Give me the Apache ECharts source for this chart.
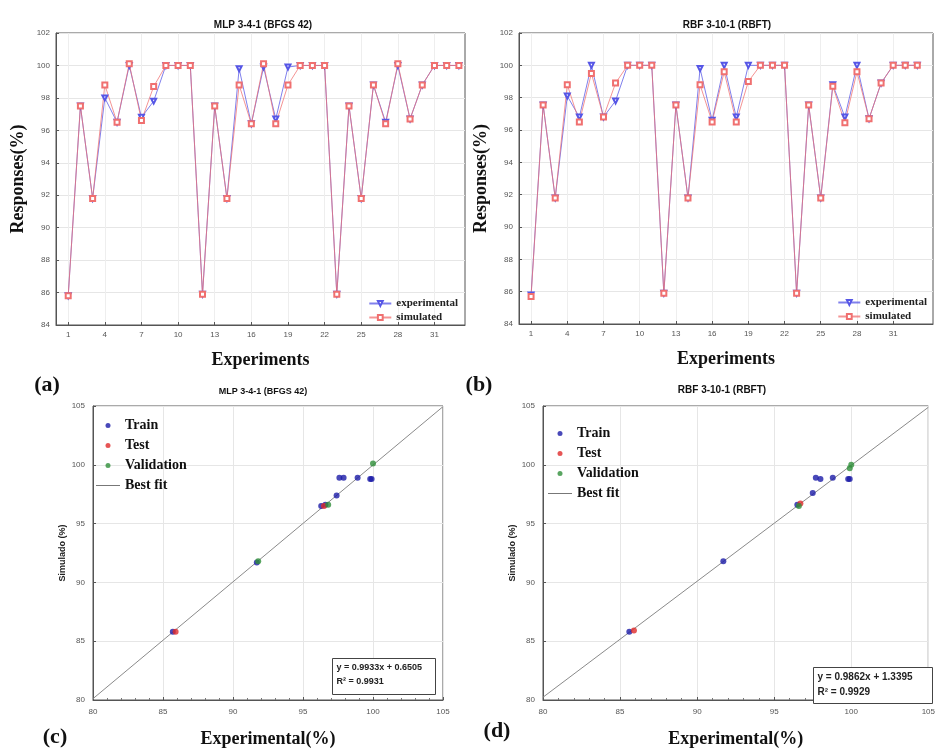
<!DOCTYPE html>
<html>
<head>
<meta charset="utf-8">
<title>MLP / RBF</title>
<script src="https://cdn.jsdelivr.net/npm/echarts@6/dist/echarts.min.js"></script>
<style>
  html, body { margin: 0; padding: 0; background: #fff; }
  #chart { width: 938px; height: 749px; }
</style>
</head>
<body>
<div id="chart"></div>
<script>
// experiments 1..33
const experiments = [1, 2, 3, 4, 5, 6, 7, 8, 9, 10, 11, 12, 13, 14, 15, 16, 17, 18, 19, 20, 21, 22, 23, 24, 25, 26, 27, 28, 29, 30, 31, 32, 33];
const expTicks = [1, 4, 7, 10, 13, 16, 19, 22, 25, 28, 31];

// (a) MLP 3-4-1
const mlpExp = [85.8, 97.5, 91.8, 98.0, 96.5, 100.0, 96.8, 97.8, 100, 100, 100, 85.9, 97.5, 91.8, 99.8, 96.4, 99.9, 96.7, 99.9, 100, 100, 100, 85.9, 97.5, 91.8, 98.8, 96.5, 100.0, 96.7, 98.8, 100, 100, 100];
const mlpSim = [85.8, 97.5, 91.8, 98.8, 96.5, 100.1, 96.6, 98.7, 100, 100, 100, 85.9, 97.5, 91.8, 98.8, 96.4, 100.1, 96.4, 98.8, 100, 100, 100, 85.9, 97.5, 91.8, 98.8, 96.4, 100.1, 96.7, 98.8, 100, 100, 100];
// (b) RBF 3-10-1
const rbfExp = [85.8, 97.55, 91.8, 98.1, 96.8, 100, 96.8, 97.8, 100, 100, 100, 85.9, 97.55, 91.8, 99.8, 96.6, 100, 96.8, 100, 100, 100, 100, 85.9, 97.55, 91.8, 98.8, 96.8, 100, 96.7, 98.9, 100, 100, 100];
const rbfSim = [85.7, 97.55, 91.8, 98.8, 96.5, 99.5, 96.8, 98.9, 100, 100, 100, 85.9, 97.55, 91.8, 98.8, 96.5, 99.6, 96.5, 99.0, 100, 100, 100, 85.9, 97.55, 91.8, 98.7, 96.45, 99.6, 96.7, 98.9, 100, 100, 100];

// (c) scatter, [experimental, simulated]
const mlpTrain = [[97.6, 98.9], [97.9, 98.9], [98.9, 98.9], [99.8, 98.8], [99.9, 98.8], [97.4, 97.4], [96.3, 96.5], [96.6, 96.6], [85.7, 85.8], [91.7, 91.7]];
const mlpTest = [[85.9, 85.8], [96.5, 96.5]];
const mlpVal = [[100, 100.1], [96.8, 96.6], [91.8, 91.8]];
// (d)
const rbfTrain = [[97.7, 98.9], [98.0, 98.8], [98.8, 98.9], [99.8, 98.8], [99.9, 98.8], [97.5, 97.6], [96.5, 96.6], [85.6, 85.8], [91.7, 91.8]];
const rbfTest = [[85.9, 85.9], [96.7, 96.7]];
const rbfVal = [[99.9, 99.7], [100, 100], [96.6, 96.5]];

const fitRange = [80, 105];
const mlpFit = [0.9933, 0.6505];
const rbfFit = [0.9862, 1.3395];
const mlpR2 = '0.9931';
const rbfR2 = '0.9929';

const serif = '"Liberation Serif", "DejaVu Serif", serif';
const sans = '"Liberation Sans", Arial, sans-serif';
const gridColor = '#e6e6e6';
const expColor = '#5656e6';
const simColor = '#f07070';

const chart = echarts.init(document.getElementById('chart'));

const pairs = (xs, ys) => xs.map((x, i) => [x, ys[i]]);
const fitLine = f => fitRange.map(x => [x, f[0] * x + f[1]]);

function responseX(idx, max) {
  return {
    type: 'value', gridIndex: idx, min: 0, max: max,
    name: 'Experiments', nameLocation: 'middle', nameGap: 26,
    nameTextStyle: { fontFamily: serif, fontWeight: 'bold', fontSize: 18, color: '#111' },
    axisLine: { lineStyle: { color: '#555' } },
    axisTick: { inside: true, length: 3, customValues: expTicks, lineStyle: { color: '#555' } },
    axisLabel: { customValues: expTicks, fontSize: 8, color: '#555', fontFamily: sans, margin: 6 },
    splitLine: { show: true, lineStyle: { color: '#eeeeee' } }
  };
}
function responseY(idx) {
  return {
    type: 'value', gridIndex: idx, min: 84, max: 102, interval: 2,
    name: 'Responses(%)', nameLocation: 'middle', nameGap: 29,
    nameTextStyle: { fontFamily: serif, fontWeight: 'bold', fontSize: 18, color: '#111' },
    axisLine: { show: true, lineStyle: { color: '#555' } },
    axisTick: { inside: true, length: 3, lineStyle: { color: '#555' } },
    axisLabel: { fontSize: 8, color: '#555', fontFamily: sans, margin: 6 },
    splitLine: { lineStyle: { color: gridColor } }
  };
}
function scatterX(idx) {
  return {
    type: 'value', gridIndex: idx, min: 80, max: 105, interval: 5,
    name: 'Experimental(%)', nameLocation: 'middle', nameGap: 30,
    nameTextStyle: { fontFamily: serif, fontWeight: 'bold', fontSize: 18, color: '#111' },
    axisLine: { lineStyle: { color: '#555' } },
    axisTick: { inside: true, length: 3, lineStyle: { color: '#555' } },
    minorTick: { show: true, splitNumber: 5, length: 2, lineStyle: { color: '#777' } },
    axisLabel: { fontSize: 8, color: '#555', fontFamily: sans, margin: 8 },
    splitLine: { lineStyle: { color: gridColor } }
  };
}
function scatterY(idx) {
  return {
    type: 'value', gridIndex: idx, min: 80, max: 105, interval: 5,
    name: 'Simulado (%)', nameLocation: 'middle', nameGap: 26,
    nameTextStyle: { fontFamily: sans, fontWeight: 'bold', fontSize: 9, color: '#222' },
    axisLine: { show: true, lineStyle: { color: '#555' } },
    axisTick: { inside: true, length: 3, lineStyle: { color: '#555' } },
    axisLabel: { fontSize: 8, color: '#555', fontFamily: sans, margin: 8 },
    splitLine: { lineStyle: { color: gridColor } }
  };
}

function respSeries(name, data, idx, color, symbol, extra) {
  return Object.assign({
    name: name, type: 'line', xAxisIndex: idx, yAxisIndex: idx,
    data: data, symbol: symbol, symbolSize: 5,
    lineStyle: { color: color, width: 1, opacity: 0.75 },
    itemStyle: { color: color, borderWidth: 1 },
    emphasis: { disabled: true }
  }, extra || {});
}
function dotSeries(name, data, idx, color) {
  return {
    name: name, type: 'scatter', xAxisIndex: idx, yAxisIndex: idx,
    data: data, symbolSize: 6, itemStyle: { color: color }, z: 3
  };
}
function fitSeries(f, idx) {
  return {
    name: 'Best fit', type: 'line', xAxisIndex: idx, yAxisIndex: idx,
    data: fitLine(f), symbol: 'none',
    lineStyle: { color: '#8a8a8a', width: 1 }, itemStyle: { color: '#777' }, z: 2
  };
}

function eqBox(x, y, w, h, f, r2, size) {
  return {
    type: 'group', left: x, top: y, z: 50,
    children: [
      { type: 'rect', z: 50, shape: { x: 0, y: 0, width: w, height: h }, style: { fill: '#fff', stroke: '#444', lineWidth: 1 } },
      { type: 'text', z: 51, x: 4, y: 5, style: { text: 'y = ' + f[0] + 'x + ' + f[1], font: 'bold ' + size + 'px ' + sans, fill: '#222' } },
      { type: 'text', z: 51, x: 4, y: 6 + size + 4, style: { text: 'R² = ' + r2, font: 'bold ' + size + 'px ' + sans, fill: '#222' } }
    ]
  };
}
function label(text, x, y, size, family) {
  return { type: 'text', x: x, y: y, style: { text: text, font: 'bold ' + size + 'px ' + family, fill: '#111', align: 'center', verticalAlign: 'middle' } };
}

const respLegend = (right, top) => ({
  orient: 'vertical', right: right, top: top, itemWidth: 22, itemHeight: 6, itemGap: 3,
  textStyle: { fontFamily: serif, fontWeight: 'bold', fontSize: 11, color: '#222' },
  data: ['experimental', 'simulated']
});
const dotLegend = (left, top) => ({
  orient: 'vertical', left: left, top: top, itemWidth: 24, itemHeight: 5, itemGap: 5,
  textStyle: { fontFamily: serif, fontWeight: 'bold', fontSize: 14, color: '#111', lineHeight: 15 },
  data: [
    { name: 'Train', icon: 'circle' },
    { name: 'Test', icon: 'circle' },
    { name: 'Validation', icon: 'circle' },
    { name: 'Best fit', icon: 'path://M0,0h24v1h-24z' }
  ]
});

const option = {
  backgroundColor: '#fff',
  animation: false,
  grid: [
    { left: 56, top: 33, width: 409, height: 292, show: true, borderColor: '#555', backgroundColor: '#fff' },
    { left: 519, top: 33, width: 414, height: 291, show: true, borderColor: '#555', backgroundColor: '#fff' },
    { left: 93, top: 406, width: 350, height: 294, show: true, borderColor: '#555', backgroundColor: '#fff' },
    { left: 543, top: 406, width: 393, height: 303, show: true, borderColor: '#555', backgroundColor: '#fff' }
  ],
  xAxis: [responseX(0, 33.5), responseX(1, 34.3), scatterX(2), scatterX(3)],
  yAxis: [responseY(0), responseY(1), scatterY(2), scatterY(3)],
  legend: [respLegend(475, 293), respLegend(6, 292), dotLegend(91, 413), dotLegend(543, 421)],
  series: [
    respSeries('experimental', pairs(experiments, mlpExp), 0, expColor, 'emptyTriangle', { symbolRotate: 180 }),
    respSeries('simulated', pairs(experiments, mlpSim), 0, simColor, 'emptyRect', { z: 3 }),
    respSeries('experimental', pairs(experiments, rbfExp), 1, expColor, 'emptyTriangle', { symbolRotate: 180 }),
    respSeries('simulated', pairs(experiments, rbfSim), 1, simColor, 'emptyRect', { z: 3 }),
    fitSeries(mlpFit, 2),
    dotSeries('Train', mlpTrain, 2, '#1c1ca8'),
    dotSeries('Test', mlpTest, 2, '#e02a2a'),
    dotSeries('Validation', mlpVal, 2, '#2f8f3a'),
    fitSeries(rbfFit, 3),
    dotSeries('Train', rbfTrain, 3, '#1c1ca8'),
    dotSeries('Test', rbfTest, 3, '#e02a2a'),
    dotSeries('Validation', rbfVal, 3, '#2f8f3a')
  ],
  graphic: [
    label('MLP 3-4-1 (BFGS 42)', 263, 25, 10, sans),
    label('RBF 3-10-1 (RBFT)', 727, 25, 10, sans),
    label('MLP 3-4-1 (BFGS 42)', 263, 392, 9, sans),
    label('RBF 3-10-1 (RBFT)', 722, 390, 10, sans),
    label('(a)', 47, 385, 22, serif),
    label('(b)', 479, 385, 22, serif),
    label('(c)', 55, 737, 22, serif),
    label('(d)', 497, 731, 22, serif),
    eqBox(332, 658, 103, 36, mlpFit, mlpR2, 9),
    eqBox(813, 667, 119, 36, rbfFit, rbfR2, 10)
  ]
};

chart.setOption(option);
</script>
</body>
</html>
